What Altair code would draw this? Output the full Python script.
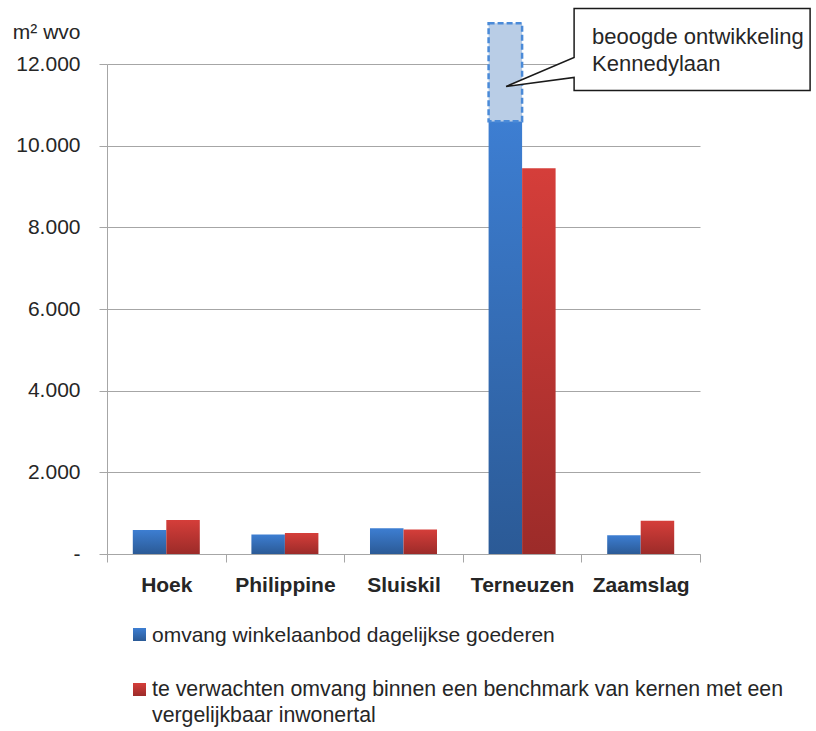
import altair as alt
import pandas as pd

categories = ["Hoek", "Philippine", "Sluiskil", "Terneuzen", "Zaamslag"]
series = [
    "omvang winkelaanbod dagelijkse goederen",
    "te verwachten omvang binnen een benchmark van kernen met een vergelijkbaar inwonertal",
]
blue_values = [590, 480, 630, 10600, 460]
red_values = [835, 515, 600, 9450, 815]
planned_category = ["Terneuzen"]
planned_from = [10600]
planned_to = [13000]
callout_value = [11500]
callout_text = ["beoogde ontwikkeling\nKennedylaan"]
y_ticks = [0, 2000, 4000, 6000, 8000, 10000, 12000]

FONT = "Liberation Sans"
TXT = "#262626"
GRID = "#a6a6a6"

rows = []
for c, b, r in zip(categories, blue_values, red_values):
    rows.append({"category": c, "series": series[0], "value": b})
    rows.append({"category": c, "series": series[1], "value": r})
df = pd.DataFrame(rows)

planned = pd.DataFrame({"category": planned_category, "series": [series[0]],
                        "value": planned_to, "value2": planned_from})
annot = pd.DataFrame({"category": planned_category, "value": callout_value,
                      "label": callout_text})

def grad(top, bottom):
    return alt.Gradient(gradient="linear", x1=0, x2=0, y1=0, y2=1,
                        stops=[alt.GradientStop(color=top, offset=0),
                               alt.GradientStop(color=bottom, offset=1)])

blue_grad = grad("#3d7ed2", "#2b5a96")
red_grad = grad("#d53e3a", "#9c2b29")

x_enc = alt.X("category:N", sort=categories, title=None,
              scale=alt.Scale(domain=categories, paddingInner=0, paddingOuter=0),
              axis=alt.Axis(labelAngle=0, labelFont=FONT, labelFontSize=21,
                            labelFontWeight="bold", labelColor=TXT,
                            labelBaseline="middle", labelPadding=23,
                            tickBand="extent", tickSize=8, tickColor=GRID,
                            domainColor=GRID, grid=False))
y_enc = alt.Y("value:Q", title="m² wvo",
              scale=alt.Scale(domain=[0, 12000], nice=False, zero=True),
              axis=alt.Axis(values=y_ticks, labelFont=FONT, labelFontSize=21,
                            labelColor=TXT, labelPadding=19, tickSize=8,
                            tickColor=GRID, domainColor=GRID, gridColor=GRID,
                            labelExpr="datum.value == 0 ? '-\u00a0\u00a0' : replace(format(datum.value, ',.0f'), ',', '.')",
                            titleAngle=0, titleAlign="right", titleBaseline="middle",
                            titleX=-27, titleY=-32, titleFont=FONT,
                            titleFontSize=21, titleFontWeight="normal",
                            titleColor=TXT))
xo_enc = alt.XOffset("series:N",
                     scale=alt.Scale(domain=series, paddingOuter=0.77, paddingInner=0))

base = alt.Chart(df)
blue = base.transform_filter(alt.datum.series == series[0]).mark_bar(
    color=blue_grad).encode(x=x_enc, y=y_enc, xOffset=xo_enc)
red = base.transform_filter(alt.datum.series == series[1]).mark_bar(
    color=red_grad).encode(x=x_enc, y=y_enc, xOffset=xo_enc)

dashed = alt.Chart(planned).mark_bar(
    fill="#b9cde6", stroke="#4a8ad8", strokeDash=[6, 3], strokeWidth=2.5
).encode(x=x_enc, y=y_enc, y2="value2:Q", xOffset=xo_enc)

callout_path = "M52,-76 L288,-76 L288,6 L52,6 L52,-7 L-16,2 L52,-27 Z"
callout = alt.Chart(annot).mark_point(
    shape=callout_path, size=4, filled=True, fill="white", stroke="#1a1a1a",
    strokeWidth=1.5, opacity=1, fillOpacity=1
).encode(x=x_enc, y=y_enc)

callout_label = alt.Chart(annot).mark_text(
    align="left", baseline="middle", dx=70, dy=-47, lineHeight=27,
    fontSize=22, font=FONT, color=TXT, lineBreak="\n"
).encode(x=x_enc, y=y_enc, text="label:N")

leg_df = pd.DataFrame({"label": [series[0]]})
leg_df2 = pd.DataFrame({"label": ["te verwachten omvang binnen een benchmark van kernen met een\nvergelijkbaar inwonertal"]})

leg_sq1 = alt.Chart(leg_df).mark_square(size=169, color=blue_grad, opacity=1).encode(
    x=alt.value(32.5), y=alt.value(570.5))
leg_sq2 = alt.Chart(leg_df2).mark_square(size=169, color=red_grad, opacity=1).encode(
    x=alt.value(32.5), y=alt.value(625.5))
leg_t1 = alt.Chart(leg_df).mark_text(
    align="left", baseline="middle", fontSize=21, font=FONT, color=TXT
).encode(x=alt.value(45), y=alt.value(572), text="label:N")
leg_t2 = alt.Chart(leg_df2).mark_text(
    align="left", baseline="middle", fontSize=21.3, font=FONT, color=TXT,
    lineBreak="\n", lineHeight=26
).encode(x=alt.value(45), y=alt.value(626), text="label:N")

chart = alt.layer(
    blue, red, dashed, callout, callout_label, leg_sq1, leg_sq2, leg_t1, leg_t2
).properties(
    width=593, height=490,
    autosize=alt.AutoSizeParams(type="none"),
    padding={"left": 107, "top": 64, "right": 116, "bottom": 177},
    background="white",
).configure_view(stroke=None)

chart.save("out.html", embed_options={"renderer": "svg", "actions": False})
